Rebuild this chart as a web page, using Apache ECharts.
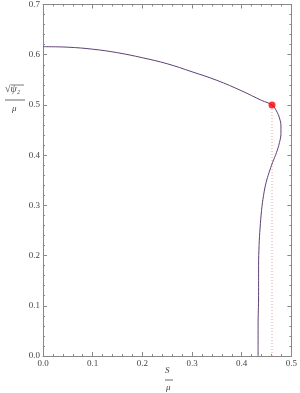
<!DOCTYPE html>
<html><head><meta charset="utf-8">
<script src="https://cdn.jsdelivr.net/npm/echarts@6/dist/echarts.min.js"></script>
<style>html,body{margin:0;padding:0;background:#fff}#c{width:300px;height:393px}</style>
</head><body><div id="c"></div>
<script>
// Data
var curveX = [0.000,0.050,0.100,0.150,0.200,0.250,0.300,0.350,0.400,0.440,0.461,0.470,0.476,0.479,0.479,0.476,0.470,0.462,0.455,0.449,0.444,0.440,0.437,0.435,0.434,0.434,0.433,0.433];
var curveY = [0.616,0.615,0.611,0.604,0.594,0.582,0.566,0.549,0.528,0.509,0.500,0.488,0.474,0.458,0.443,0.425,0.405,0.385,0.365,0.345,0.320,0.290,0.255,0.220,0.180,0.120,0.060,0.000];
var pointX = [0.461];
var pointY = [0.500];
var xTicks = [0.0,0.1,0.2,0.3,0.4,0.5];
var yTicks = [0.0,0.1,0.2,0.3,0.4,0.5,0.6,0.7];

var curve = curveX.map(function(x,i){return [x,curveY[i]];});
var pts = pointX.map(function(x,i){return [x,pointY[i]];});
var dropLine = [[pointX[0],0],[pointX[0],pointY[0]]];

var frameColor = '#888';
var font = '"Liberation Serif", "DejaVu Serif", serif';
function axisCommon(showLabel){
  return {
    type:'value', splitLine:{show:false},
    axisLine:{show:true,onZero:false,lineStyle:{color:frameColor,width:1}},
    axisTick:{show:true,inside:true,length:4,lineStyle:{color:frameColor}},
    minorTick:{show:true,splitNumber:5,length:2,lineStyle:{color:frameColor}},
    axisLabel:{show:showLabel,color:'#444',fontFamily:font,fontSize:9,margin:3,
      formatter:function(v){return v.toFixed(1);}}
  };
}
var chart = echarts.init(document.getElementById('c'));
var xb = axisCommon(true); xb.min=xTicks[0]; xb.max=xTicks[xTicks.length-1]; xb.interval=0.1; xb.position='bottom';
var xt = axisCommon(false); xt.min=xTicks[0]; xt.max=xTicks[xTicks.length-1]; xt.interval=0.1; xt.position='top';
var yl = axisCommon(true); yl.min=yTicks[0]; yl.max=yTicks[yTicks.length-1]; yl.interval=0.1; yl.position='left';
var yr = axisCommon(false); yr.min=yTicks[0]; yr.max=yTicks[yTicks.length-1]; yr.interval=0.1; yr.position='right';
chart.setOption({
  animation:false,
  grid:{left:43,right:5,top:4,bottom:37},
  xAxis:[xb,xt],
  yAxis:[yl,yr],
  series:[
    {type:'line',data:dropLine,showSymbol:false,lineStyle:{color:'#f2a0a0',width:1,type:[1,2]},z:1},
    {type:'line',data:curve,showSymbol:false,smooth:0.4,lineStyle:{color:'#5f4070',width:1},z:2},
    {type:'scatter',data:pts,symbolSize:7,itemStyle:{color:'#ff0000'},z:3}
  ],
  graphic:[
    {type:'text',left:169-4,top:366,style:{text:'S',font:'italic 9px '+font,fill:'#444'}},
    {type:'line',shape:{x1:165,y1:380,x2:173,y2:380},style:{stroke:'#444',lineWidth:0.8}},
    {type:'text',left:169-3,top:383,style:{text:'μ',font:'italic 9px '+font,fill:'#444'}},
    {type:'text',left:5,top:84,style:{text:'√ψ₂',font:'italic 10px '+font,fill:'#444'}},
    {type:'line',shape:{x1:11,y1:85,x2:24,y2:85},style:{stroke:'#444',lineWidth:0.7}},
    {type:'line',shape:{x1:5,y1:100,x2:25,y2:100},style:{stroke:'#444',lineWidth:0.8}},
    {type:'text',left:12,top:104,style:{text:'μ',font:'italic 9px '+font,fill:'#444'}}
  ]
});
</script></body></html>
